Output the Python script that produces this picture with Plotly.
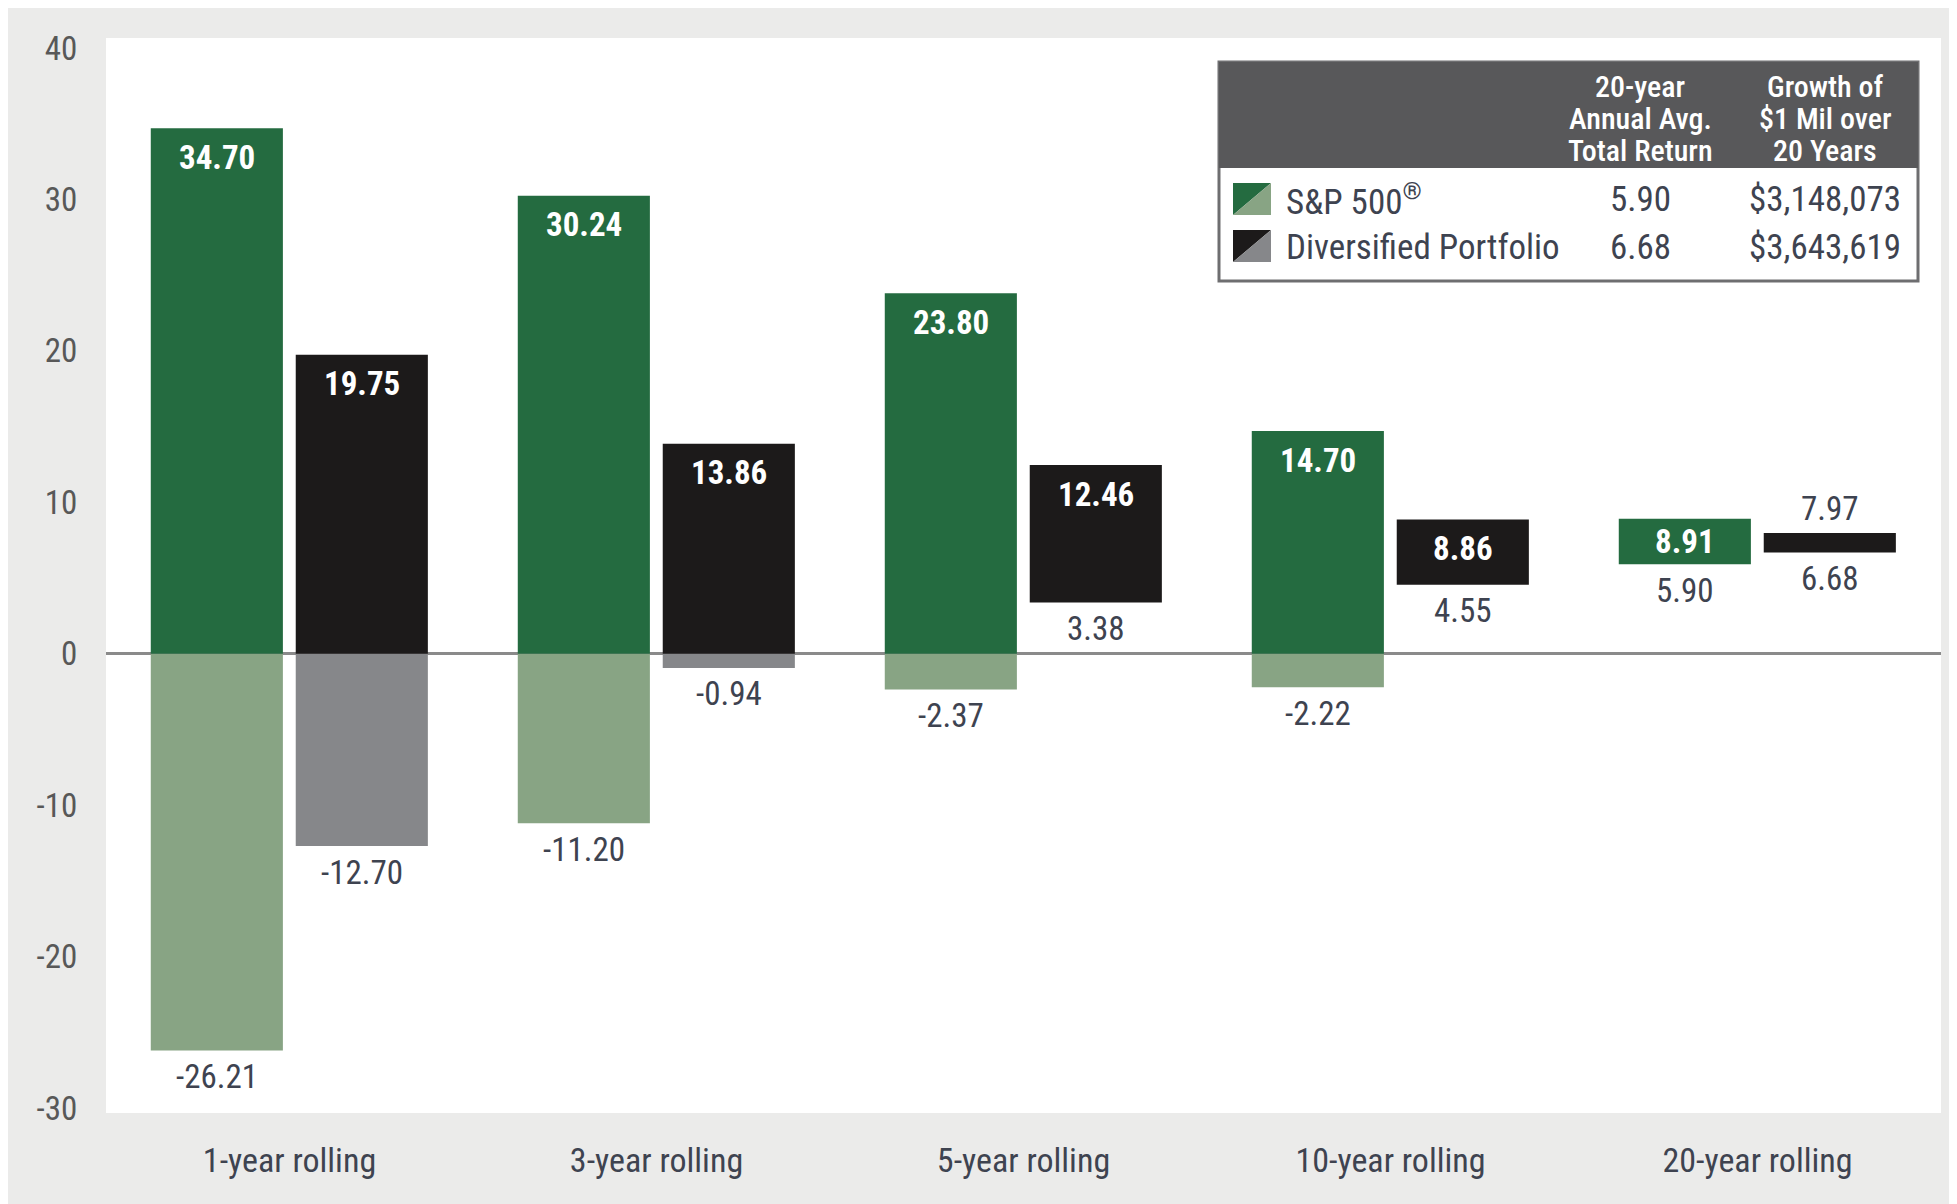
import plotly.graph_objects as go

categories = ["1-year rolling", "3-year rolling", "5-year rolling", "10-year rolling", "20-year rolling"]
sp_high = [34.70, 30.24, 23.80, 14.70, 8.91]
sp_low = [-26.21, -11.20, -2.37, -2.22, 5.90]
div_high = [19.75, 13.86, 12.46, 8.86, 7.97]
div_low = [-12.70, -0.94, 3.38, 4.55, 6.68]
y_ticks = [-30, -20, -10, 0, 10, 20, 30, 40]
y_ticktext = ["-30", "-20", "-10", "0", "10", "20", "30", "40"]
series_names = ["S&P 500<sup>®</sup>", "Diversified Portfolio"]
avg_return = ["5.90", "6.68"]
growth = ["$3,148,073", "$3,643,619"]
table_head_1 = ["20-year", "Annual Avg.", "Total Return"]
table_head_2 = ["Growth of", "$1 Mil over", "20 Years"]

FONT = "Roboto Condensed, Liberation Sans Narrow, DejaVu Sans Condensed, sans-serif"
DG, LG = "#246b40", "#88a484"
BK, GR = "#1c1a1a", "#86878a"
TXT = "#3e4350"

# the page puts the figure 8px in from the top-left corner
OFS = 8
W, H = 1957 - OFS, 1204 - OFS
L, R, T, B = 106 - OFS, 1941 - OFS, 38 - OFS, 1113 - OFS
YMIN, YMAX = -30.33, 40.66
ppu = (B - T) / (YMAX - YMIN)

def px(x):
    return (x - OFS - L) / (R - L)

def py(y):
    return (B - (y - OFS)) / (B - T)

BW = 0.36
OFF_SP = -0.378
OFF_DIV = 0.017

fig = go.Figure()

def add_range(high, low, off, pos_col, neg_col):
    pos_base = [max(lo, 0) for lo in low]
    pos_len = [hi - b for hi, b in zip(high, pos_base)]
    neg_top = [min(hi, 0) for hi in high]
    neg_len = [max(t - lo, 0) for t, lo in zip(neg_top, low)]
    fig.add_trace(go.Bar(x=categories, y=neg_len, base=low, offset=off, width=BW,
                         marker=dict(color=neg_col, line=dict(width=0)), showlegend=False,
                         hoverinfo="skip"))
    fig.add_trace(go.Bar(x=categories, y=pos_len, base=pos_base, offset=off, width=BW,
                         marker=dict(color=pos_col, line=dict(width=0)), showlegend=False,
                         hoverinfo="skip"))

add_range(sp_high, sp_low, OFF_SP, DG, LG)
add_range(div_high, div_low, OFF_DIV, BK, GR)

annotations = []
LBL = 33

def add_labels(high, low, off):
    for i, (hi, lo) in enumerate(zip(high, low)):
        xc = i + off + BW / 2
        bar_px = (hi - lo) * ppu
        if bar_px >= 40:
            if bar_px >= 58:
                annotations.append(dict(x=xc, y=hi, xref="x", yref="y", text=f"{hi:.2f}",
                                        showarrow=False, yanchor="middle", yshift=-29,
                                        font=dict(family=FONT, size=LBL, color="white", weight="bold")))
            else:
                annotations.append(dict(x=xc, y=(hi + lo) / 2, xref="x", yref="y", text=f"{hi:.2f}",
                                        showarrow=False, yanchor="middle",
                                        font=dict(family=FONT, size=LBL, color="white", weight="bold")))
        else:
            annotations.append(dict(x=xc, y=hi, xref="x", yref="y", text=f"{hi:.2f}",
                                    showarrow=False, yanchor="middle", yshift=25,
                                    font=dict(family=FONT, size=LBL, color=TXT)))
        annotations.append(dict(x=xc, y=lo, xref="x", yref="y", text=f"{lo:.2f}",
                                showarrow=False, yanchor="middle", yshift=-26,
                                font=dict(family=FONT, size=LBL, color=TXT)))

add_labels(sp_high, sp_low, OFF_SP)
add_labels(div_high, div_low, OFF_DIV)

# Table / legend box
shapes = []
bx0, bx1, by0, by1, hy = 1219, 1918, 62, 281, 168
shapes.append(dict(type="rect", xref="paper", yref="paper", x0=px(bx0), x1=px(bx1), y0=py(by1), y1=py(by0),
                   fillcolor="white", line=dict(color="#6e6e70", width=3), layer="above"))
shapes.append(dict(type="rect", xref="paper", yref="paper", x0=px(bx0), x1=px(bx1), y0=py(hy), y1=py(by0),
                   fillcolor="#58585a", line=dict(color="#58585a", width=0), layer="above"))

col1, col2 = 1640, 1825
for j, (a, b) in enumerate(zip(table_head_1, table_head_2)):
    yy = 86 + j * 32.5
    for xx, t in ((col1, a), (col2, b)):
        annotations.append(dict(x=px(xx), y=py(yy), xref="paper", yref="paper", text=t, showarrow=False,
                                xanchor="center", yanchor="middle",
                                font=dict(family=FONT, size=30, color="white", weight=500)))

swatches = [(DG, LG), (BK, GR)]
row_y = [200, 247]
for k in range(2):
    yc = row_y[k]
    sx0, sx1 = 1233, 1271
    sy0, sy1 = yc - 17, yc + 15
    c1, c2 = swatches[k]
    p = lambda x, y: f"{px(x)},{py(y)}"
    shapes.append(dict(type="path", xref="paper", yref="paper",
                       path=f"M {p(sx0, sy0)} L {p(sx1, sy0)} L {p(sx0, sy1)} Z",
                       fillcolor=c1, line=dict(width=0), layer="above"))
    shapes.append(dict(type="path", xref="paper", yref="paper",
                       path=f"M {p(sx1, sy0)} L {p(sx1, sy1)} L {p(sx0, sy1)} Z",
                       fillcolor=c2, line=dict(width=0), layer="above"))
    annotations.append(dict(x=px(1284), y=py(yc), xref="paper", yref="paper", text=series_names[k],
                            showarrow=False, xanchor="left", yanchor="middle",
                            font=dict(family=FONT, size=35, color=TXT)))
    annotations.append(dict(x=px(col1), y=py(yc), xref="paper", yref="paper", text=avg_return[k],
                            showarrow=False, xanchor="center", yanchor="middle",
                            font=dict(family=FONT, size=35, color=TXT)))
    annotations.append(dict(x=px(col2), y=py(yc), xref="paper", yref="paper", text=growth[k],
                            showarrow=False, xanchor="center", yanchor="middle",
                            font=dict(family=FONT, size=35, color=TXT)))

fig.update_layout(
    width=W, height=H,
    margin=dict(l=L, r=W - R, t=T, b=H - B, pad=0),
    paper_bgcolor="#ebebea",
    plot_bgcolor="white",
    barmode="overlay",
    showlegend=False,
    annotations=annotations,
    shapes=shapes,
    font=dict(family=FONT),
)
fig.update_xaxes(type="category", range=[-0.5, 4.5], showgrid=False, zeroline=False, showline=False,
                 ticks="outside", ticklen=17, tickcolor="rgba(0,0,0,0)",
                 tickfont=dict(family=FONT, size=34, color=TXT))
fig.update_yaxes(range=[YMIN, YMAX], tickvals=y_ticks, ticktext=y_ticktext, showgrid=False,
                 zeroline=True, zerolinecolor="#8a8a8a", zerolinewidth=3, showline=False,
                 ticks="outside", ticklen=21, tickcolor="rgba(0,0,0,0)",
                 tickfont=dict(family=FONT, size=33, color="#585858"))

fig.write_html("out.html")
